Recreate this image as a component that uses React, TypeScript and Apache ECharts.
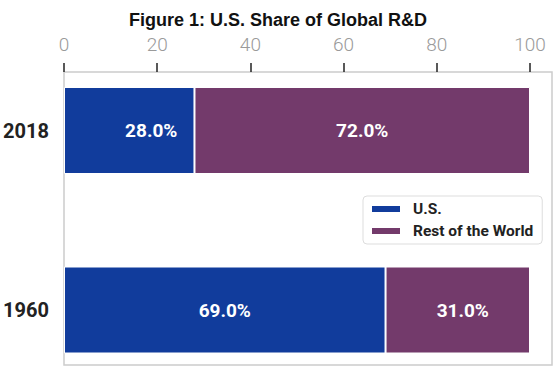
import React, { useEffect, useRef } from "react";
import * as echarts from "echarts";

const categories = ["1960", "2018"];
const usShare = [69.0, 28.0];
const restShare = [31.0, 72.0];
const xTicks = [0, 20, 40, 60, 80, 100];

const BLUE = "#113c9c";
const PURPLE = "#733a6b";

export default function App() {
  const ref = useRef<HTMLDivElement>(null);
  useEffect(() => {
    if (!ref.current) return;
    const chart = echarts.init(ref.current, undefined, { renderer: "svg" });
    const labelBase = {
      show: true,
      position: "inside",
      color: "#fff",
      fontFamily: "Roboto",
      fontWeight: "bold",
      fontSize: 19,
      formatter: (p: any) => `${Number(p.value).toFixed(1)}%`,
    };
    chart.setOption({
      animation: false,
      backgroundColor: "#fff",
      title: {
        text: "Figure 1: U.S. Share of Global R&D",
        left: "center",
        top: 6,
        textStyle: {
          fontFamily: "Liberation Sans",
          fontWeight: "bold",
          fontSize: 18,
          color: "#111",
        },
      },
      grid: {
        left: 64,
        right: 26,
        top: 130.5,
        bottom: 58,
        containLabel: false,
        outerBoundsMode: "none",
      },
      xAxis: {
        type: "value",
        position: "top",
        offset: 58.5,
        min: 0,
        max: 100,
        interval: 20,
        splitLine: { show: false },
        axisLine: { show: false },
        axisTick: { show: true, length: 9, lineStyle: { color: "#222", width: 1.5 } },
        axisLabel: {
          margin: 18,
          color: "#9a9a9a",
          fontFamily: "Roboto",
          fontWeight: 300,
          fontSize: 19,
          customValues: xTicks,
        },
      },
      yAxis: {
        type: "category",
        data: categories,
        boundaryGap: false,
        axisLine: { show: false },
        axisTick: { show: false },
        axisLabel: {
          margin: 15,
          color: "#222",
          fontFamily: "Roboto",
          fontWeight: "bold",
          fontSize: 20,
        },
      },
      legend: {
        orient: "vertical",
        left: 363,
        top: 196,
        width: 184,
        padding: [5, 9, 5, 7],
        itemGap: 6,
        itemWidth: 30,
        itemHeight: 8,
        icon: "rect",
        backgroundColor: "#fff",
        borderColor: "#dddddd",
        borderWidth: 1,
        borderRadius: 4,
        textStyle: {
          fontFamily: "Roboto",
          fontWeight: "bold",
          fontSize: 15.5,
          color: "#222",
          padding: [0, 0, 0, 7],
        },
        data: ["U.S.", "Rest of the World"],
      },
      graphic: [
        {
          type: "rect",
          shape: { x: 64, y: 72, width: 488, height: 293 },
          style: { fill: "none", stroke: "#cccccc", lineWidth: 1.5 },
          z: 0,
        },
      ],
      series: [
        {
          name: "U.S.",
          type: "bar",
          stack: "total",
          barWidth: 87,
          itemStyle: { color: BLUE, borderColor: "#fff", borderWidth: 1 },
          label: labelBase,
          data: [
            { value: usShare[0] },
            { value: usShare[1], label: { offset: [22, 0] } },
          ],
        },
        {
          name: "Rest of the World",
          type: "bar",
          stack: "total",
          barWidth: 87,
          itemStyle: { color: PURPLE, borderColor: "#fff", borderWidth: 1 },
          label: labelBase,
          data: [
            { value: restShare[0], label: { offset: [5, 0] } },
            { value: restShare[1] },
          ],
        },
      ],
    });
    return () => chart.dispose();
  }, []);
  return <div ref={ref} style={{ width: 556, height: 368, position: "absolute", left: 0, top: 0 }} />;
}
